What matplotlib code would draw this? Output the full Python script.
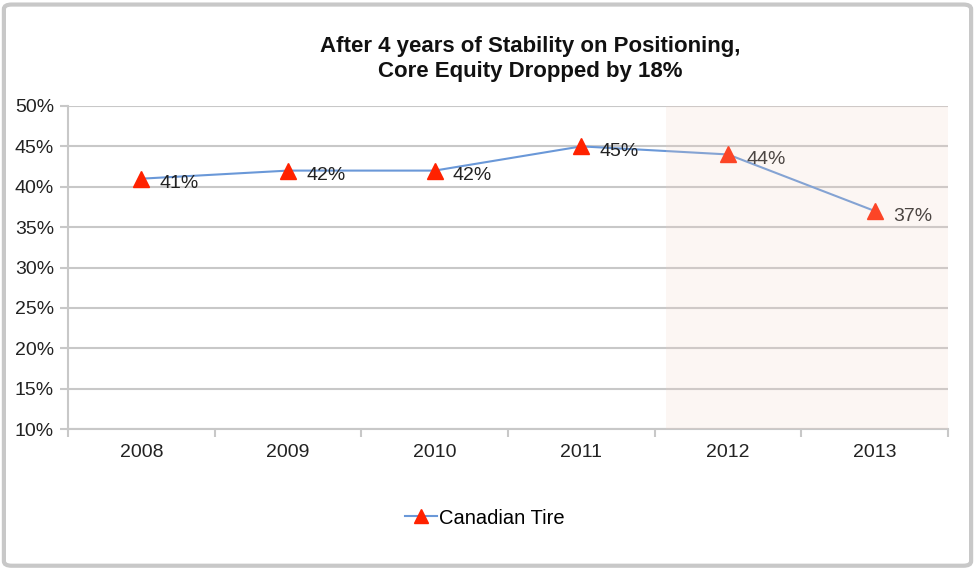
import matplotlib.pyplot as plt
from matplotlib.patches import FancyBboxPatch

years = ['2008', '2009', '2010', '2011', '2012', '2013']
core_equity = [0.41, 0.42, 0.42, 0.45, 0.44, 0.37]
labels = ['41%', '42%', '42%', '45%', '44%', '37%']
yticks = [0.10, 0.15, 0.20, 0.25, 0.30, 0.35, 0.40, 0.45, 0.50]

plt.rcParams['font.family'] = ['Liberation Sans', 'DejaVu Sans']

fig = plt.figure(figsize=(9.75, 5.68), dpi=100)
fig.patches.append(FancyBboxPatch((0.004, 0.004), 0.992, 0.988,
                                  boxstyle='round,pad=0,rounding_size=0.008',
                                  transform=fig.transFigure, fill=False,
                                  edgecolor='#c8c8c8', linewidth=3))
ax = fig.add_axes([68 / 975, 1 - 429 / 568, (948 - 68) / 975, (429 - 106) / 568])

x = list(range(len(years)))
ax.plot(x, core_equity, color='#6a98d8', linewidth=1.5, marker='^',
        markersize=12, markerfacecolor='#ff2200', markeredgecolor='#ff2200',
        label='Canadian Tire', zorder=3)
for xi, v, t in zip(x, core_equity, labels):
    ax.annotate(t, (xi, v), xytext=(13, -7), textcoords='offset points',
                fontsize=14, color='#222222', zorder=4)

# shaded region drawn on top, semi transparent
ax.axvspan(3.58, 5.5, facecolor='#f0d2c3', alpha=0.2, zorder=5, linewidth=0)

ax.set_xlim(-0.5, 5.5)
ax.set_ylim(0.10, 0.50)
ax.set_yticks(yticks)
ax.set_yticklabels(['%d%%' % round(v * 100) for v in yticks], fontsize=14, color='#222222')
ax.set_xticks(x)
ax.set_xticklabels(years, fontsize=14, color='#222222')
ax.set_xticks([i + 0.5 for i in range(-1, 6)], minor=True)
ax.tick_params(axis='x', which='major', length=0, pad=11)
ax.tick_params(axis='x', which='minor', length=6, color='#c8c8c8', width=1.5)
ax.tick_params(axis='y', length=6, color='#c8c8c8', width=1.5, pad=4)
ax.grid(axis='y', color='#c8c8c8', linewidth=1.5, zorder=0)
ax.set_axisbelow(True)
for s in ['top', 'right']:
    ax.spines[s].set_visible(False)
for s in ['left', 'bottom']:
    ax.spines[s].set_color('#c8c8c8')
    ax.spines[s].set_linewidth(1.5)

fig.text(530 / 975, 1 - 59 / 568,
         'After 4 years of Stability on Positioning,\nCore Equity Dropped by 18%',
         ha='center', va='center', fontsize=16, fontweight='bold',
         linespacing=1.25, color='#111111')

ax.legend(loc='center', bbox_to_anchor=((485 - 68) / 880, (429 - 518) / 323),
          frameon=False, fontsize=14.5, handlelength=1.6, handletextpad=0.1,
          markerscale=0.85)

fig.savefig('out.png', dpi=100)
